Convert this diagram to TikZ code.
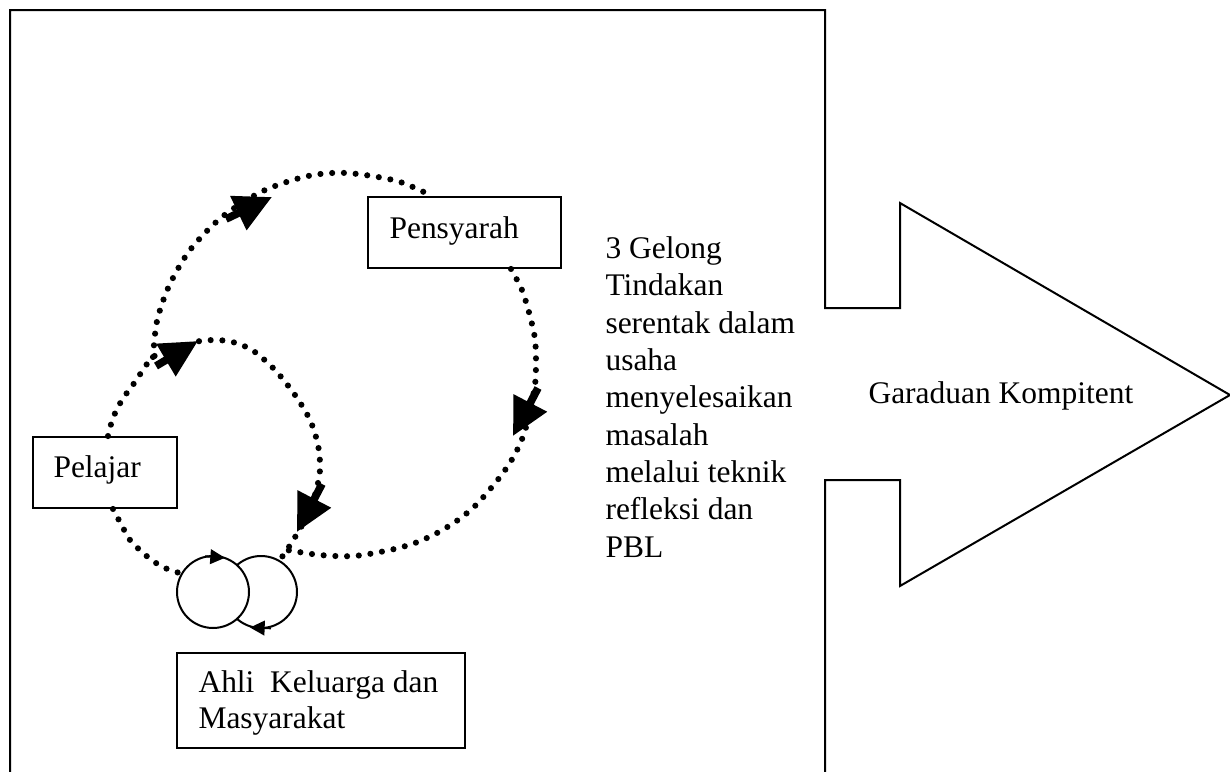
\documentclass[tikz,border=0pt]{standalone}
\usepackage{fontspec}
\setmainfont{Liberation Serif}
\usetikzlibrary{arrows.meta,calc}
\tikzset{
  outl/.style={line width=0.75pt, line join=miter},
  boxst/.style={draw, line width=0.75pt, rectangle, inner sep=0pt},
  txt/.style={inner sep=0pt, font=\fontsize{11.8}{14}\selectfont, align=left},
  dots/.style={line width=2.3pt, dash pattern=on 0pt off 4.4pt, line cap=round},
  bigarr/.style={line width=2.9pt, -{Triangle[length=14pt,width=13.5pt]}},
  ring/.style={circle, draw, line width=0.75pt, minimum size=27pt, inner sep=0pt},
  smallarr/.style={line width=0.75pt, -{Triangle[length=5.5pt,width=5.5pt]}}
}
\begin{document}
\begin{tikzpicture}[x=0.375pt,y=-0.375pt]
\useasboundingbox (0,0) rectangle (1230,772);
\clip (0,0) rectangle (1230,772);
% outline: frame with big arrow
\draw[outl] (10,790) -- (10,10) -- (825,10) -- (825,308) -- (900,308) -- (900,203)
  -- (1230,395) -- (900,586) -- (900,480) -- (825,480) -- (825,790);
% boxes
\node[boxst, minimum width=72.4pt, minimum height=26.6pt] (pens) at (464.5,232.5) {};
\node[boxst, minimum width=54pt, minimum height=26.6pt] (pel) at (105,472.5) {};
\node[boxst, minimum width=108pt, minimum height=35.6pt] (ahli) at (321,700.5) {};
\node[txt, anchor=base west] (tpens) at (389,238) {Pensyarah};
\node[txt, anchor=base west] (tpel) at (53,477) {Pelajar};
\node[txt, anchor=base west, font=\fontsize{11.8}{13.5}\selectfont] (tahli) at (198,728) {Ahli~~Keluarga dan\\Masyarakat};
\node[txt, anchor=base west] (tgel) at (605,557) {3 Gelong\\Tindakan\\serentak dalam\\usaha\\menyelesaikan\\masalah\\melalui teknik\\refleksi dan\\PBL};
\node[txt, anchor=base west] (tgrad) at (868,403) {Garaduan Kompitent};
% circles
\node[ring] (c2) at (261,592) {};
\node[ring, fill=white] (c1) at (213,592) {};
\draw[smallarr] (205,556.3) -- (225,557.8);
\draw[smallarr] (271,628.3) -- (250,627.5);
% named points
\coordinate (pelT) at ($(pel.north)+(3,0)$);
\coordinate (pelB) at ($(pel.south)+(8,0)$);
\coordinate (pensT) at ($(pens.north)+(-32.5,0)$);
\coordinate (pensB) at ($(pens.south)+(46.5,0)$);
\coordinate (br) at (153,357);
\coordinate (jn) at (287,550);
% inner loop
\draw[dots] plot[smooth] coordinates {(pelT) (113,418) (122,400) (135,382) (br) (175,350) (200,341) (228,341) (252,350) (275,370) (295,395) (310,420) (318,445) (320,470) (315,495) (305,520) (jn) (c2.60)};
% outer loop
\draw[dots] plot[smooth] coordinates {(br) (157,321) (169,286) (190,250) (222,217) (263,191) (308,176) (347,173) (397,181) (pensT)};
\draw[dots] plot[smooth] coordinates {(pensB) (522,290) (530,316) (535,339) (536,362) (535,385) (530,410) (524,434) (514,456) (500,477) (477,504) (458,520) (437,533) (415,543) (390,550) (354,556) (320,555) (jn)};
% pelajar to circle
\draw[dots] plot[smooth] coordinates {(pelB) (121,524) (130,540) (142,552) (153,561) (165,568) (c1.150)};
% arrow heads
\draw[bigarr] (226,219) -- (272,197);
\draw[bigarr] (156,366) -- (198,341);
\draw[bigarr] (538,388) -- (513,436);
\draw[bigarr] (322,484) -- (297,532);
\end{tikzpicture}
\end{document}
